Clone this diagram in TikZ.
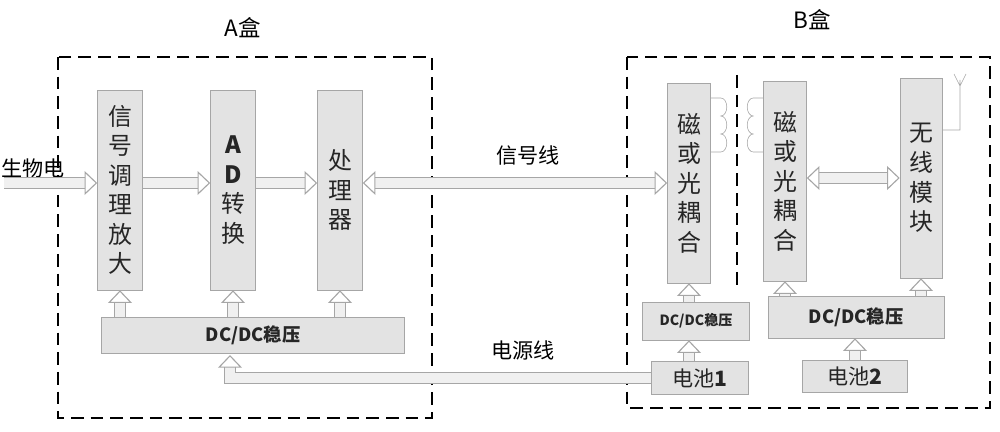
\documentclass[tikz,border=0pt]{standalone}
\usepackage{fontspec}
\setmainfont{Noto Sans CJK SC}
\usetikzlibrary{arrows.meta}
\newdimen\pxu
\pxu=0.025cm

\begin{document}
\begin{tikzpicture}[
            x = 0.025cm, y = -0.025cm, % pixel grid
            block/.style = {draw = gray!70, fill = gray!22, inner sep = 0pt, text = black!85},
            tall/.style = {block, minimum width = 45\pxu, minimum height = 200\pxu,
                           align = center, font = \fontsize{17}{21}\selectfont},
            wide/.style = {block, font = \bfseries\fontsize{13}{15}\selectfont},
            hollow/.style = {draw = gray!70, line width = 0.8pt, double = gray!12,
                             double distance = 6.5pt,
                             -{Triangle[open, length = 9pt, width = 17pt]}},
            hollowboth/.style = {hollow, {Triangle[open, length = 9pt, width = 17pt]}-{Triangle[open, length = 9pt, width = 17pt]}},
            box/.style = {draw = black, line width = 1.6pt, dash pattern = on 9pt off 5pt}
        ]

        \useasboundingbox (0,0) rectangle (1000,432);

        % A box
        \draw[box] (58,57) rectangle (432,418);
        \node[font = \fontsize{16}{18}\selectfont] (atitle) at (243,28) {A盒};

        \node[tall] (amp) at (120,190) {信\\号\\调\\理\\放\\大};
        \node[tall] (ad) at (233,190) {\textbf{A}\\\textbf{D}\\转\\换};
        \node[tall] (cpu) at (340,190) {处\\理\\器};
        \node[wide, minimum width = 303\pxu, minimum height = 36\pxu] (dca) at (253,335) {DC/DC稳压};

        \node[font = \fontsize{15}{17}\selectfont] (bio) at (33,168) {生物电};
        \coordinate (bioin) at (4,183);

        % B box
        \draw[box] (627,57) rectangle (990,408);
        \draw[box, line width = 1pt] (737,75) -- (737,290);
        \node[font = \fontsize{16}{18}\selectfont] (btitle) at (812,20) {B盒};

        \node[tall, minimum width = 43\pxu] (cpl1) at (689,183) {磁\\或\\光\\耦\\合};
        \node[tall, minimum width = 43\pxu] (cpl2) at (785,181) {磁\\或\\光\\耦\\合};
        \node[tall, minimum width = 42\pxu] (rf) at (921,178) {无\\线\\模\\块};
        \node[wide, minimum width = 107\pxu, minimum height = 38\pxu,
              font = \bfseries\fontsize{10}{12}\selectfont] (dcb1) at (696,321) {DC/DC稳压};
        \node[wide, minimum width = 176\pxu, minimum height = 42\pxu] (dcb2) at (856,317) {DC/DC稳压};
        \node[wide, minimum width = 97\pxu, minimum height = 33\pxu,
              font = \fontsize{15}{17}\selectfont] (bat1) at (700,378) {电池\textbf{1}};
        \node[wide, minimum width = 105\pxu, minimum height = 32\pxu,
              font = \fontsize{15}{17}\selectfont] (bat2) at (855,376) {电池\textbf{2}};

        \node[font = \fontsize{15}{17}\selectfont] (sig) at (528,155) {信号线};
        \node[font = \fontsize{15}{17}\selectfont] (pwr) at (523,350) {电源线};

        % signal path
        \draw[hollow] (bioin) -- (amp.west |- bioin);
        \draw[hollow] (amp.east |- 0,183) -- (ad.west |- 0,183);
        \draw[hollow] (ad.east |- 0,183) -- (cpu.west |- 0,183);
        \draw[hollowboth] (cpu.east |- 0,183) -- (cpl1.west |- 0,183);
        \draw[hollowboth] (cpl2.east |- 0,178) -- (rf.west |- 0,178);

        % power arrows
        \foreach \n in {amp, ad, cpu}
            \draw[hollow] (\n |- dca.north) -- (\n.south);
        \draw[hollow] (cpl1 |- dcb1.north) -- (cpl1.south);
        \draw[hollow] (cpl2 |- dcb2.north) -- (cpl2.south);
        \draw[hollow] (rf |- dcb2.north) -- (rf.south);
        \draw[hollow] (cpl1 |- bat1.north) -- (cpl1 |- dcb1.south);
        \draw[hollow] (bat2) -- (bat2 |- dcb2.south);
        \draw[hollow] (bat1.west) -| (230,355);

        % coils
        \draw[gray!70] (cpl1.east |- 0,152) -- ++(10,0)
            arc (90:-90:6 and 9) arc (90:-90:6 and 9) arc (90:-90:6 and 9) -- ++(-10,0);
        \draw[gray!70] (cpl2.west |- 0,152) -- ++(-10,0)
            arc (90:270:6 and 9) arc (90:270:6 and 9) arc (90:270:6 and 9) -- ++(10,0);

        % antenna
        \draw[gray!70] (rf.east |- 0,130) -- (960,130) -- (960,80)
            (954,74) -- (960,86) -- (966,74);
\end{tikzpicture}
\end{document}
